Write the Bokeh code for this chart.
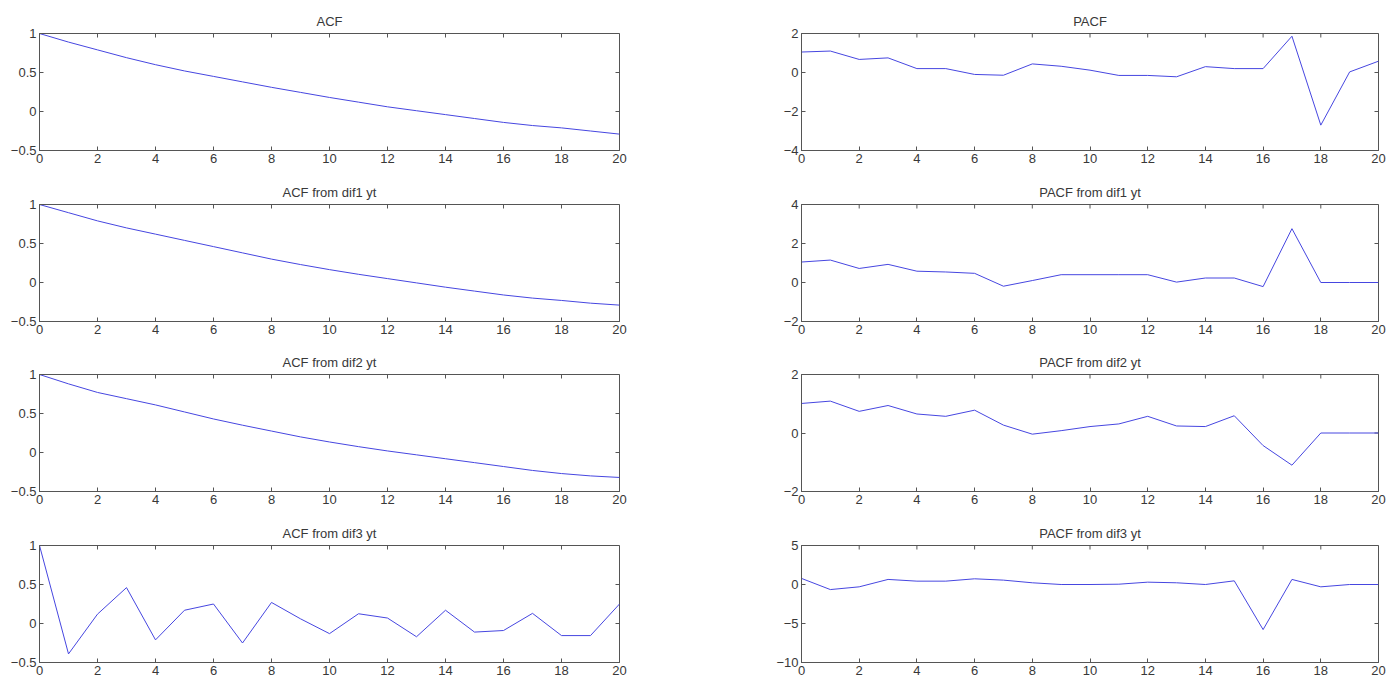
import math
from bokeh.plotting import figure
from bokeh.layouts import gridplot
from bokeh.models import FixedTicker, Range1d
from bokeh.embed import file_html
from bokeh.resources import INLINE

lags = list(range(21))
x_ticks = [0, 2, 4, 6, 8, 10, 12, 14, 16, 18, 20]

acf_titles = ["ACF", "ACF from dif1 yt", "ACF from dif2 yt", "ACF from dif3 yt"]
pacf_titles = ["PACF", "PACF from dif1 yt", "PACF from dif2 yt", "PACF from dif3 yt"]

acf_y = [1.0, 0.89, 0.79, 0.69, 0.60, 0.52, 0.45, 0.38, 0.31, 0.245, 0.18,
         0.12, 0.06, 0.01, -0.04, -0.09, -0.14, -0.18, -0.21, -0.25, -0.29]
acf_dif1 = [1.0, 0.895, 0.79, 0.70, 0.62, 0.54, 0.46, 0.38, 0.30, 0.23, 0.165,
            0.105, 0.05, -0.005, -0.06, -0.11, -0.16, -0.20, -0.23, -0.265, -0.29]
acf_dif2 = [1.0, 0.88, 0.77, 0.69, 0.61, 0.52, 0.43, 0.35, 0.275, 0.20, 0.135,
            0.075, 0.02, -0.03, -0.08, -0.13, -0.18, -0.23, -0.27, -0.30, -0.32]
acf_dif3 = [1.0, -0.39, 0.12, 0.46, -0.21, 0.17, 0.25, -0.25, 0.27, 0.06, -0.13,
            0.125, 0.07, -0.17, 0.17, -0.11, -0.09, 0.13, -0.155, -0.155, 0.25]

pacf_y = [1.05, 1.1, 0.67, 0.75, 0.2, 0.2, -0.1, -0.14, 0.44, 0.32, 0.12,
          -0.15, -0.15, -0.22, 0.3, 0.2, 0.2, 1.86, -2.7, 0.03, 0.58]
pacf_dif1 = [1.05, 1.15, 0.72, 0.93, 0.58, 0.54, 0.47, -0.19, 0.1, 0.4, 0.4,
             0.4, 0.4, 0.02, 0.23, 0.23, -0.21, 2.76, 0.0, 0.0, 0.0]
pacf_dif2 = [1.01, 1.09, 0.74, 0.94, 0.65, 0.57, 0.78, 0.27, -0.04, 0.08, 0.22,
             0.31, 0.57, 0.24, 0.22, 0.59, -0.43, -1.1, 0.0, 0.0, 0.0]
pacf_dif3 = [0.78, -0.65, -0.3, 0.65, 0.43, 0.43, 0.73, 0.56, 0.22, 0.0, 0.0,
             0.04, 0.3, 0.22, 0.0, 0.47, -5.78, 0.65, -0.3, 0.0, 0.0]

acf_series = [acf_y, acf_dif1, acf_dif2, acf_dif3]
pacf_series = [pacf_y, pacf_dif1, pacf_dif2, pacf_dif3]

acf_ranges = [(-0.5, 1), (-0.5, 1), (-0.5, 1), (-0.5, 1)]
acf_yticks = [[-0.5, 0, 0.5, 1]] * 4
pacf_ranges = [(-4, 2), (-2, 4), (-2, 2), (-10, 5)]
pacf_yticks = [[-4, -2, 0, 2], [-2, 0, 2, 4], [-2, 0, 2], [-10, -5, 0, 5]]

LINE = "#4646e0"
AX = "#555555"
TXT = "#383838"
FONT = "Liberation Sans Narrow, Liberation Sans, Arial, sans-serif"
FS = "13px"

row_tops = [33, 28, 28, 28]
row_heights = [176, 170, 171, 165]
FRAME_H = 117


def style_axis(ax, ticks):
    ax.ticker = FixedTicker(ticks=ticks)
    ax.minor_tick_line_color = None
    ax.major_tick_in = 4
    ax.major_tick_out = 0
    ax.axis_line_color = AX
    ax.major_tick_line_color = AX
    ax.major_label_text_font = FONT
    ax.major_label_text_font_size = FS
    ax.major_label_text_color = TXT
    ax.major_label_standoff = 3


def make(title, vals, yr, yt, col, row):
    left = 39 if col == 0 else 101
    fw = 580 if col == 0 else 577
    right = 81 if col == 0 else 10
    top = row_tops[row]
    h = row_heights[row]
    bottom = h - top - FRAME_H
    p = figure(width=left + fw + right, height=h,
               x_range=Range1d(0, 20), y_range=Range1d(*yr),
               output_backend="svg", toolbar_location=None,
               min_border_left=left, min_border_right=right,
               min_border_top=top, min_border_bottom=bottom,
               title=title)
    p.title.align = "center"
    p.title.text_font = FONT
    p.title.text_font_size = FS
    p.title.text_font_style = "normal"
    p.title.text_color = TXT
    p.title.standoff = 9
    p.grid.visible = False
    p.outline_line_color = AX
    style_axis(p.xaxis[0], x_ticks)
    style_axis(p.yaxis[0], yt)
    # inward ticks on the top and right edges of the box
    p.ray(x=x_ticks, y=[yr[1]] * len(x_ticks), length=4, length_units="screen",
          angle=-math.pi / 2, line_color=AX, line_width=1)
    p.ray(x=[20] * len(yt), y=yt, length=4, length_units="screen",
          angle=math.pi, line_color=AX, line_width=1)
    p.line(lags, vals, line_color=LINE, line_width=1)
    return p


rows = []
for r in range(4):
    a = make(acf_titles[r], acf_series[r], acf_ranges[r], acf_yticks[r], 0, r)
    b = make(pacf_titles[r], pacf_series[r], pacf_ranges[r], pacf_yticks[r], 1, r)
    rows.append([a, b])

grid = gridplot(rows, toolbar_location=None)

with open("out.html", "w") as f:
    f.write(file_html(grid, INLINE))
